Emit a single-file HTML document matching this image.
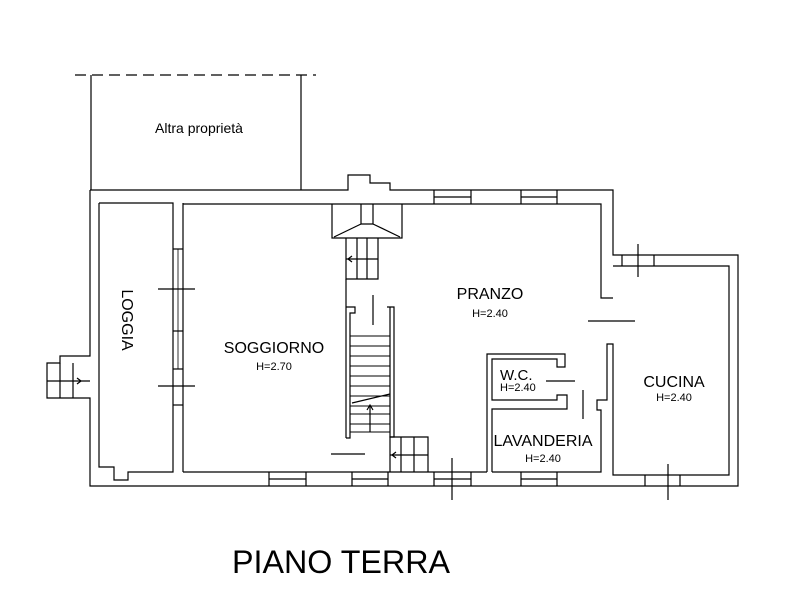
<!DOCTYPE html>
<html><head><meta charset="utf-8"><style>
html,body{margin:0;padding:0;background:#fff;}
svg{display:block;}
text{font-family:"Liberation Sans",sans-serif;fill:#000;}
</style></head><body>
<svg width="800" height="602" viewBox="0 0 800 602" xmlns="http://www.w3.org/2000/svg">
<rect width="800" height="602" fill="#fff"/>
<g fill="none" stroke="#000" stroke-width="1.2">
<!-- altra proprieta -->
<line x1="75" y1="75" x2="316" y2="75" stroke-dasharray="11,6"/>
<line x1="91" y1="75" x2="91" y2="190"/>
<line x1="301" y1="75" x2="301" y2="190"/>
<!-- outer -->
<polyline points="90,190 348,190 348,175 370,175 370,183 390,183 390,190 613,190 613,255 738,255 738,486 90,486 90,398 47,398 47,363 60,363 60,356 90,356 90,190"/>
<!-- ext stairs -->
<line x1="60" y1="363" x2="60" y2="398"/><line x1="73" y1="363" x2="73" y2="398"/>
<line x1="47" y1="381" x2="90" y2="381"/>
<polyline points="77,378 81,381 77,384"/>
<!-- loggia inner -->
<polyline points="99,203 173,203 173,472 128,472 128,480 114,480 114,467 99,467 99,203"/>
<!-- loggia right wall windows/doors -->
<line x1="183" y1="203" x2="183" y2="472"/>
<line x1="173" y1="249" x2="183" y2="249"/>
<line x1="173" y1="331" x2="183" y2="331"/>
<line x1="173" y1="369" x2="183" y2="369"/>
<line x1="173" y1="405" x2="183" y2="405"/>
<line x1="158" y1="289" x2="195" y2="289"/>
<line x1="158" y1="386" x2="195" y2="386"/>
<line x1="178" y1="249" x2="178" y2="369" stroke-width="0.8"/>
<!-- main inner -->
<polyline points="183,204 601,204 601,298 613,298"/>
<line x1="183" y1="472" x2="487" y2="472"/>
<!-- top windows -->
<line x1="434" y1="190" x2="434" y2="204"/><line x1="471" y1="190" x2="471" y2="204"/><line x1="434" y1="197" x2="471" y2="197"/>
<line x1="521" y1="190" x2="521" y2="204"/><line x1="557" y1="190" x2="557" y2="204"/><line x1="521" y1="197" x2="557" y2="197"/>
<!-- bottom windows -->
<line x1="269" y1="472" x2="269" y2="486"/><line x1="306" y1="472" x2="306" y2="486"/><line x1="269" y1="479" x2="306" y2="479"/>
<line x1="352" y1="472" x2="352" y2="486"/><line x1="388" y1="472" x2="388" y2="486"/><line x1="352" y1="479" x2="388" y2="479"/>
<line x1="434" y1="472" x2="434" y2="486"/><line x1="471" y1="472" x2="471" y2="486"/><line x1="434" y1="479" x2="471" y2="479"/>
<line x1="452" y1="458" x2="452" y2="500"/>
<line x1="521" y1="472" x2="521" y2="486"/><line x1="557" y1="472" x2="557" y2="486"/><line x1="521" y1="479" x2="557" y2="479"/>
<line x1="645" y1="475" x2="645" y2="486"/><line x1="680" y1="475" x2="680" y2="486"/>
<line x1="668" y1="464" x2="668" y2="500"/>
<!-- fireplace -->
<polyline points="332,204 332,238 402,238 402,204"/>
<polyline points="361,204 361,224 373,224 373,204"/>
<line x1="361" y1="224" x2="334" y2="237"/><line x1="373" y1="224" x2="400" y2="237"/>
<!-- upper small stair -->
<polyline points="346,238 346,279 378,279 378,238"/>
<line x1="357" y1="238" x2="357" y2="279"/><line x1="367" y1="238" x2="367" y2="279"/>
<line x1="346" y1="259" x2="378" y2="259"/>
<polyline points="352,256 348,259 352,262"/>
<!-- main stairs -->
<line x1="346" y1="279" x2="346" y2="438"/>
<polyline points="346,307 355,307 355,313 350,313 350,438 346,438"/>
<polyline points="387,307 390,307 390,437 394,437 394,307 390,307"/>
<line x1="373" y1="295" x2="373" y2="325"/>
<g stroke-width="1">
<line x1="350" y1="336" x2="390" y2="336"/><line x1="350" y1="346" x2="390" y2="346"/><line x1="350" y1="356" x2="390" y2="356"/><line x1="350" y1="366" x2="390" y2="366"/><line x1="350" y1="376" x2="390" y2="376"/><line x1="350" y1="386" x2="390" y2="386"/><line x1="350" y1="396" x2="390" y2="396"/><line x1="350" y1="406" x2="390" y2="406"/><line x1="350" y1="414" x2="390" y2="414"/><line x1="350" y1="424" x2="390" y2="424"/><line x1="350" y1="432" x2="390" y2="432"/>
</g>
<line x1="352" y1="403" x2="390" y2="394"/>
<line x1="370" y1="432" x2="370" y2="405"/><polyline points="367,410 370,405 373,410"/>
<!-- lower small stair -->
<polyline points="390,472 390,437 428,437 428,472"/>
<line x1="401" y1="437" x2="401" y2="472"/><line x1="414" y1="437" x2="414" y2="472"/>
<line x1="390" y1="455" x2="428" y2="455"/>
<polyline points="396,452 392,455 396,458"/>
<line x1="331" y1="454" x2="365" y2="454"/>
<!-- cucina -->
<polyline points="613,266 729,266 729,475 613,475 613,344 607,344 607,400 597,400 597,410 601,410 601,472 492,472"/>
<line x1="622" y1="255" x2="622" y2="266"/><line x1="654" y1="255" x2="654" y2="266"/>
<line x1="638" y1="244" x2="638" y2="277"/>
<line x1="588" y1="321" x2="635" y2="321"/>
<!-- wc / lavanderia -->
<polyline points="487,472 487,354 565,354 565,367 557,367 557,359 492,359 492,400 557,400 557,395 567,395 567,409 492,409 492,472"/>
<line x1="546" y1="381" x2="575" y2="381"/>
<line x1="583" y1="390" x2="583" y2="419"/>
</g>
<text x="199" y="133" font-size="14" text-anchor="middle">Altra proprietà</text>
<text transform="translate(122,320) rotate(90)" font-size="16" text-anchor="middle">LOGGIA</text>
<text x="274" y="353" font-size="16" text-anchor="middle">SOGGIORNO</text>
<text x="274" y="370" font-size="11" text-anchor="middle">H=2.70</text>
<text x="490" y="299" font-size="16" text-anchor="middle">PRANZO</text>
<text x="490" y="317" font-size="11" text-anchor="middle">H=2.40</text>
<text x="500" y="380" font-size="15">W.C.</text>
<text x="500" y="391" font-size="11">H=2.40</text>
<text x="543" y="446" font-size="16" text-anchor="middle">LAVANDERIA</text>
<text x="543" y="462" font-size="11" text-anchor="middle">H=2.40</text>
<text x="674" y="387" font-size="16" text-anchor="middle">CUCINA</text>
<text x="674" y="401" font-size="11" text-anchor="middle">H=2.40</text>
<text x="232" y="573" font-size="32" textLength="218" lengthAdjust="spacingAndGlyphs">PIANO TERRA</text>
</svg>
</body></html>
